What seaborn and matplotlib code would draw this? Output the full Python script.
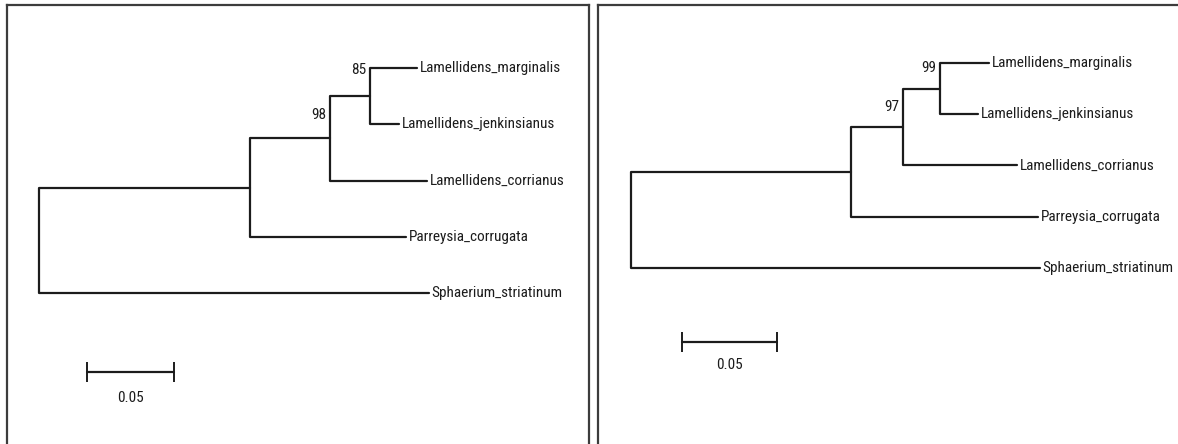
import matplotlib
matplotlib.use("Agg")
import pandas as pd
import matplotlib.pyplot as plt
import seaborn as sns

# ---------------------------
taxa = ["Lamellidens_marginalis", "Lamellidens_jenkinsianus", "Lamellidens_corrianus",
        "Parreysia_corrugata", "Sphaerium_striatinum"]

# internal branches: root->A, A->B, B->C
left_inner = [0.121, 0.046, 0.023]
# terminal branches: C->marginalis, C->jenkinsianus, B->corrianus, A->Parreysia, root->Sphaerium
left_tips = [0.027, 0.017, 0.056, 0.090, 0.224]
left_support = [98, 85]  # node B, node C

right_inner = [0.116, 0.027, 0.0195]
right_tips = [0.026, 0.020, 0.060, 0.098, 0.215]
right_support = [97, 99]

scale_len = 0.05
scale_text = "0.05"

FIG_W, FIG_H = 1178, 444
INK = "#1c1c1c"

sns.set_style("white")
plt.rcParams["font.family"] = ["Roboto Condensed", "Liberation Sans Narrow", "Roboto", "DejaVu Sans"]
plt.rcParams["font.stretch"] = "condensed"


def tree_frame(inner, tips):
    """Build bracket polylines (one per internal node) for a ladder tree."""
    a = inner[0]
    b = a + inner[1]
    c = b + inner[2]
    tip_x = [c + tips[0], c + tips[1], b + tips[2], a + tips[3], tips[4]]
    yc = 0.5
    yb = (yc + 2) / 2
    ya = (yb + 3) / 2
    brackets = {
        "C": [(tip_x[0], 0), (c, 0), (c, 1), (tip_x[1], 1)],
        "B": [(c, yc), (b, yc), (b, 2), (tip_x[2], 2)],
        "A": [(b, yb), (a, yb), (a, 3), (tip_x[3], 3)],
        "root": [(a, ya), (0, ya), (0, 4), (tip_x[4], 4)],
    }
    rows = []
    for name, pts in brackets.items():
        for i, (x, y) in enumerate(pts):
            rows.append({"node": name, "order": i, "x": x, "y": y})
    nodes = {"B": (b, yc), "C": (c, 0)}
    return pd.DataFrame(rows), tip_x, nodes


def draw_panel(fig, box, inner, tips, support, support_dy, bar_px, bar_label_dy):
    left, right, top, root_px, ppu, y0, dy = box
    ax = fig.add_axes([left / FIG_W, 0, (right - left) / FIG_W, (FIG_H - top) / FIG_H])
    ax.set_xlim((left - root_px) / ppu, (right - root_px) / ppu)
    ax.set_ylim((FIG_H - y0) / dy, (top - y0) / dy)

    df, tip_x, nodes = tree_frame(inner, tips)
    sns.lineplot(data=df, x="x", y="y", units="node", estimator=None, sort=False,
                 color=INK, lw=1.6, ax=ax, legend=False)

    for name, x, y in zip(taxa, tip_x, range(len(taxa))):
        ax.annotate(name, (x, y), xytext=(3, 0), textcoords="offset pixels",
                    ha="left", va="center", fontsize=11, color=INK)

    for val, key, off in zip(support, ["B", "C"], support_dy):
        nx, ny = nodes[key]
        ax.annotate(str(val), (nx, ny + off), xytext=(-3, 0), textcoords="offset pixels",
                    ha="right", va="center", fontsize=11, color=INK)

    sx = (bar_px[0] - root_px) / ppu
    sy = (bar_px[1] - y0) / dy
    ax.plot([sx, sx + scale_len], [sy, sy], color=INK, lw=1.6,
            marker="|", ms=15, mew=1.4)
    ax.annotate(scale_text, (sx + scale_len / 2, sy), xytext=(0, -bar_label_dy),
                textcoords="offset pixels", ha="center", va="center",
                fontsize=11, color=INK)

    ax.set_xticks([])
    ax.set_yticks([])
    ax.set_xlabel("")
    ax.set_ylabel("")
    for side in ["top", "left", "right"]:
        ax.spines[side].set_visible(True)
        ax.spines[side].set_color("#3c3c3c")
        ax.spines[side].set_linewidth(1.6)
    ax.spines["bottom"].set_visible(False)
    return ax


fig = plt.figure(figsize=(FIG_W / 100, FIG_H / 100), dpi=100)

# (box left, box right, box top, root x, px per unit, first tip y, tip spacing) in pixels
draw_panel(fig, (7, 589, 5, 39, 1740, 68, 56.25), left_inner, left_tips,
           left_support, [0.34, 0.04], (87, 372), 26)
draw_panel(fig, (598, 1200, 5, 631, 1900, 63, 51.25), right_inner, right_tips,
           right_support, [0.36, 0.10], (682, 342), 23)

fig.savefig("out.png", dpi=100)
